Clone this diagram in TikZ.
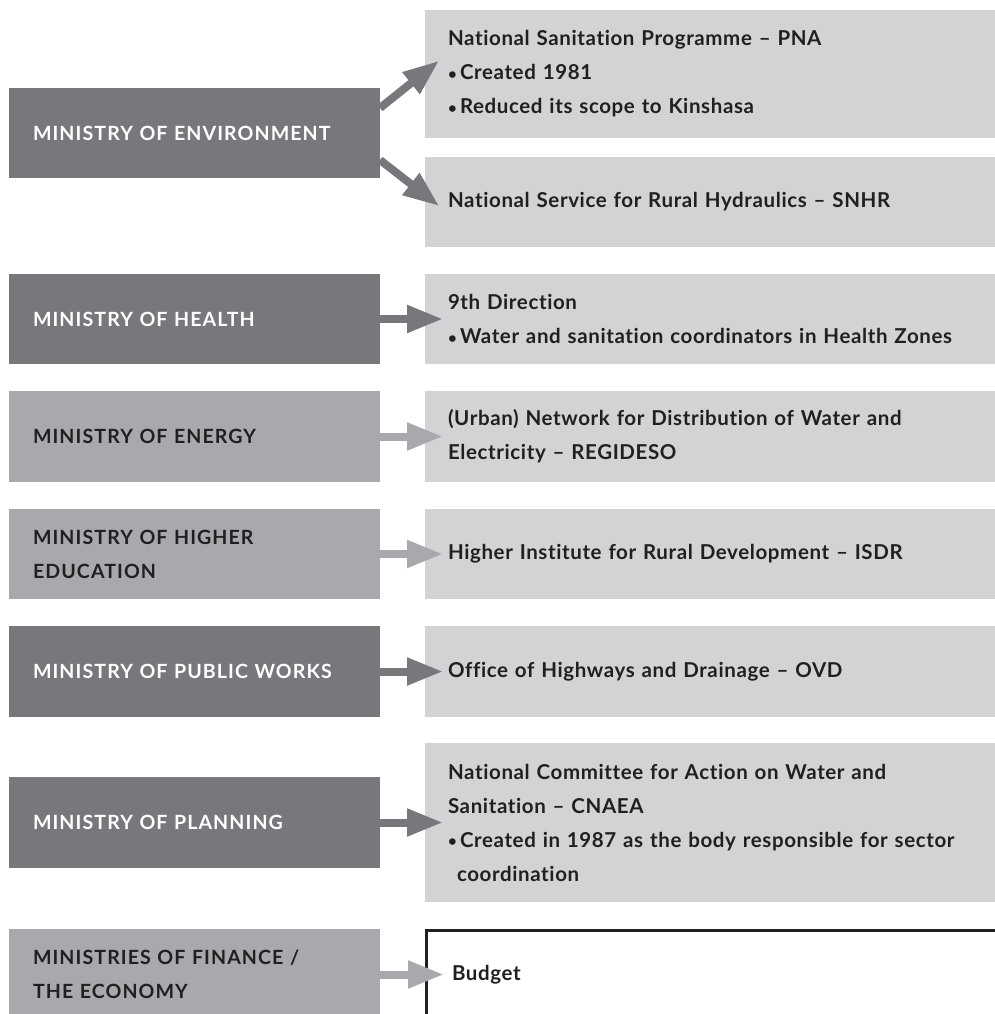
\documentclass[tikz,border=0pt]{standalone}
\usepackage{fontspec}
\setmainfont{Lato}[RawFeature=-liga]
\usetikzlibrary{arrows.meta,calc}
\definecolor{darkg}{HTML}{77787B}
\definecolor{lightg}{HTML}{A7A9AC}
\definecolor{boxg}{HTML}{D1D3D4}
\definecolor{ink}{HTML}{231F20}
\newcommand{\bul}{\makebox[12pt][l]{\raisebox{0.5pt}{\fontsize{15}{15}\selectfont•}}}
\begin{document}
\begin{tikzpicture}[x=1pt,y=-1pt,
  txt/.style={font=\bfseries\fontsize{20.5}{34}\selectfont\addfontfeature{LetterSpace=3}, align=left, anchor=north west, inner ysep=0pt, outer sep=0pt},
  lbox/.style={txt, font=\bfseries\fontsize{19.6}{34}\selectfont\addfontfeature{LetterSpace=5.5}, minimum width=371pt, inner xsep=24pt, text width=323pt},
  darkbox/.style={lbox, fill=darkg, text=white},
  lightbox/.style={lbox, fill=lightg, text=ink},
  rbox/.style={txt, fill=boxg, text=ink, minimum width=570pt, inner xsep=23pt, text width=524pt},
  arr/.style={line width=8pt, -{Triangle[length=36pt,width=26pt]}, shorten >=-18pt},
  darkarr/.style={arr, draw=darkg, fill=darkg},
  lightarr/.style={arr, draw=lightg, fill=lightg}
]
\useasboundingbox (0,0) rectangle (995,1014);
\clip (0,0) rectangle (995,1014);

% left boxes
\node[darkbox, minimum height=90pt] (env) at (9,88) {MINISTRY OF ENVIRONMENT};
\node[darkbox, minimum height=90pt] (health) at (9,274) {MINISTRY OF HEALTH};
\node[lightbox, minimum height=91pt] (energy) at (9,391) {MINISTRY OF ENERGY};
\node[lightbox, minimum height=90pt] (higher) at (9,509) {MINISTRY OF HIGHER\\EDUCATION};
\node[darkbox, minimum height=91pt] (public) at (9,626) {MINISTRY OF PUBLIC WORKS};
\node[darkbox, minimum height=91pt] (planning) at (9,777) {MINISTRY OF PLANNING};
\node[lightbox, minimum height=91pt] (finance) at (9,929) {MINISTRIES OF FINANCE /\\THE ECONOMY};

% right boxes
\node[rbox, minimum height=128pt] (pna) at (425,10) {National Sanitation Programme – PNA\\\bul Created 1981\\\bul Reduced its scope to Kinshasa};
\node[rbox, minimum height=90pt] (snhr) at (425,157) {National Service for Rural Hydraulics – SNHR};
\node[rbox, minimum height=90pt] (healthR) at (425,274) {9th Direction\\\bul Water and sanitation coordinators in Health Zones};
\node[rbox, minimum height=91pt] (energyR) at (425,391) {(Urban) Network for Distribution of Water and\\Electricity – REGIDESO};
\node[rbox, minimum height=90pt] (higherR) at (425,509) {Higher Institute for Rural Development – ISDR};
\node[rbox, minimum height=91pt] (publicR) at (425,626) {Office of Highways and Drainage – OVD};
\node[rbox, minimum height=159pt] (planningR) at (425,743) {National Committee for Action on Water and\\Sanitation – CNAEA\\\bul Created in 1987 as the body responsible for sector\\\hspace*{9pt}coordination};
\node[rbox, fill=white, minimum height=90pt, inner xsep=26pt, text width=518pt] (budget) at (426,930) {Budget};
\draw[line width=3pt, ink] (budget.south west) -- (budget.north west) -- (budget.north east);

% arrows
\draw[darkarr] ($(env.east)+(0,-25)$) -- ($(pna.west)+(0,-2)$);
\draw[darkarr] ($(env.east)+(0,27)$) -- ($(snhr.west)+(0,-7)$);
\draw[darkarr] (health.east) -- (health.east -| healthR.west);
\draw[lightarr] (energy.east) -- (energy.east -| energyR.west);
\draw[lightarr] (higher.east) -- (higher.east -| higherR.west);
\draw[darkarr] (public.east) -- (public.east -| publicR.west);
\draw[darkarr] (planning.east) -- (planning.east -| planningR.west);
\draw[lightarr] (finance.east) -- (finance.east -| budget.west);
\end{tikzpicture}
\end{document}
